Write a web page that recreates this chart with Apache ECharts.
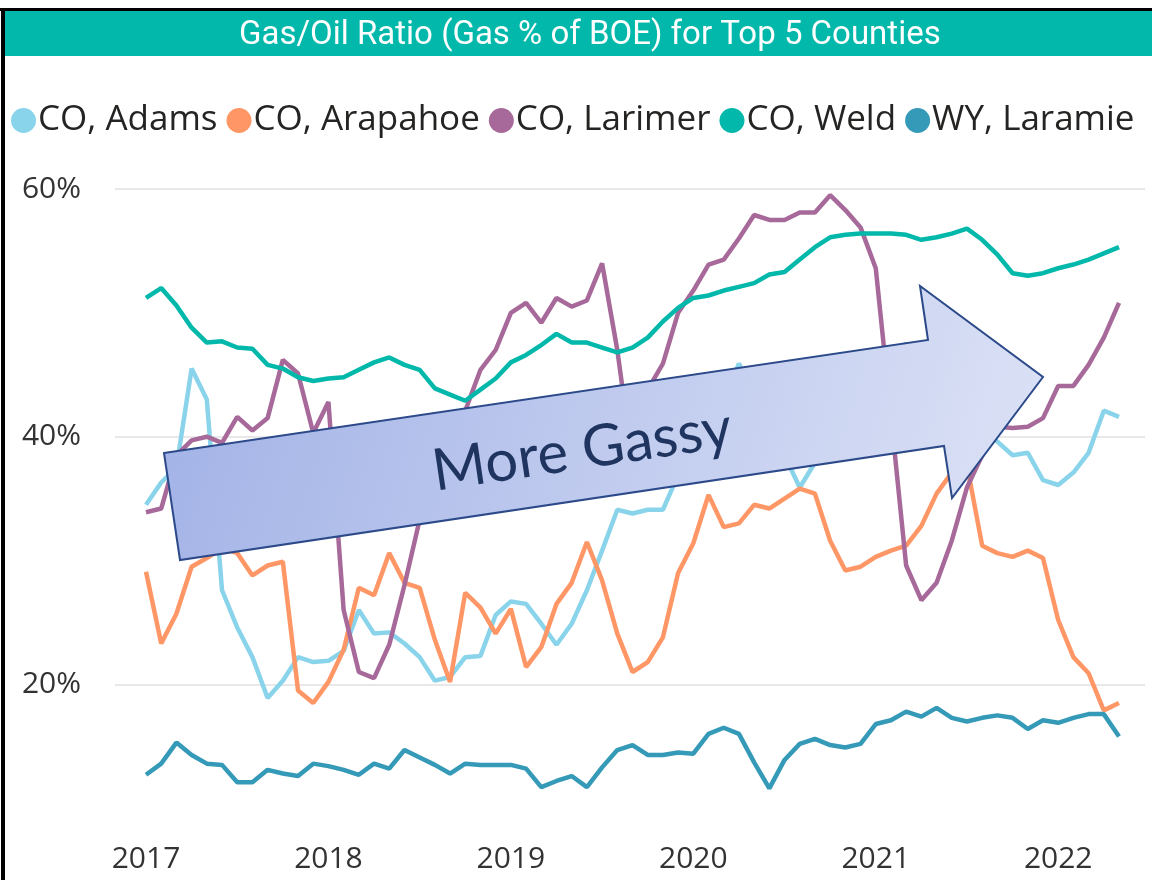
<!DOCTYPE html>
<html>
<head>
<meta charset="utf-8">
<script src="https://cdn.jsdelivr.net/npm/echarts@6/dist/echarts.min.js"></script>
<style>
  html, body { margin: 0; padding: 0; background: #fff; }
  #show { width: 1152px; height: 880px; }
</style>
</head>
<body>
<div id="show"></div>
<script>
// monthly points, Jan 2017 - May 2022
let months = [
  '2017-01','2017-02','2017-03','2017-04','2017-05','2017-06','2017-07','2017-08','2017-09','2017-10','2017-11','2017-12',
  '2018-01','2018-02','2018-03','2018-04','2018-05','2018-06','2018-07','2018-08','2018-09','2018-10','2018-11','2018-12',
  '2019-01','2019-02','2019-03','2019-04','2019-05','2019-06','2019-07','2019-08','2019-09','2019-10','2019-11','2019-12',
  '2020-01','2020-02','2020-03','2020-04','2020-05','2020-06','2020-07','2020-08','2020-09','2020-10','2020-11','2020-12',
  '2021-01','2021-02','2021-03','2021-04','2021-05','2021-06','2021-07','2021-08','2021-09','2021-10','2021-11','2021-12',
  '2022-01','2022-02','2022-03','2022-04','2022-05'
];

// gas % of BOE
let adams = [34.5,36.3,37.5,45.5,43.0,27.6,24.6,22.2,18.9,20.3, 22.2,21.8,21.9,22.7,26.0,24.1,24.2,23.3,22.2,20.3,
  20.6,22.2,22.3,25.6,26.7,26.5,24.9,23.2,24.9,27.6, 30.8,34.1,33.8,34.1,34.1,36.9,38.5,40.5,43.0,45.9,
  43.5,41.0,38.5,35.9,37.9,40.0,42.5,44.0,45.5,47.0, 47.5,46.0,45.0,43.0,41.5,40.5,39.6,38.5,38.7,36.5,
  36.1,37.1,38.7,42.1,41.6];
let arapahoe = [29.1,23.3,25.7,29.5,30.2,31.0,30.6,28.8,29.6,29.9, 19.5,18.5,20.2,22.8,27.8,27.2,30.6,28.2,27.8,23.6,
  20.2,27.4,26.2,24.1,26.1,21.4,23.0,26.5,28.2,31.5, 28.4,24.1,21.0,21.8,23.8,29.0,31.4,35.3,32.7,33.0,
  34.5,34.2,35.0,35.8,35.4,31.6,29.2,29.5,30.3,30.8, 31.2,32.8,35.4,37.1,37.7,31.2,30.6,30.3,30.8,30.2,
  25.2,22.2,20.9,17.9,18.5];
let larimer = [33.9,34.2,38.5,39.7,40.0,39.5,41.6,40.5,41.5,46.2, 45.1,40.3,42.8,26.0,21.0,20.5,23.2,28.0,33.3,37.5,
  40.5,42.1,45.4,47.0,50.0,50.8,49.2,51.2,50.5,51.0, 54.0,47.0,38.0,43.8,45.9,50.0,51.8,53.9,54.3,56.0,
  57.9,57.5,57.5,58.1,58.1,59.5,58.3,56.9,53.6,41.7, 29.6,26.8,28.2,31.6,35.9,38.5,40.8,40.7,40.8,41.5,
  44.1,44.1,45.8,48.0,50.8];
let weld = [51.2,52.0,50.6,48.8,47.6,47.7,47.2,47.1,45.8,45.5, 44.8,44.5,44.7,44.8,45.4,46.0,46.4,45.8,45.4,43.9,
  43.4,42.9,43.8,44.7,46.0,46.6,47.4,48.3,47.6,47.6, 47.2,46.8,47.2,48.0,49.3,50.4,51.2,51.4,51.8,52.1,
  52.4,53.1,53.3,54.3,55.3,56.1,56.3,56.4,56.4,56.4, 56.3,55.9,56.1,56.4,56.8,55.9,54.7,53.2,53.0,53.2,
  53.6,53.9,54.3,54.8,55.3];
let laramie = [12.7,13.6,15.3,14.3,13.6,13.5,12.1,12.1,13.1,12.8, 12.6,13.6,13.4,13.1,12.7,13.6,13.2,14.7,14.1,13.5,
  12.8,13.6,13.5,13.5,13.5,13.2,11.7,12.2,12.6,11.7, 13.3,14.7,15.1,14.3,14.3,14.5,14.4,16.0,16.5,16.0,
  13.7,11.6,13.9,15.2,15.6,15.1,14.9,15.2,16.8,17.1, 17.8,17.4,18.1,17.3,17.0,17.3,17.5,17.3,16.4,17.1,
  16.9,17.3,17.6,17.6,15.8];

let seriesNames = ['CO, Adams', 'CO, Arapahoe', 'CO, Larimer', 'CO, Weld', 'WY, Laramie'];
let seriesData = [adams, arapahoe, larimer, weld, laramie];
let colors = ['#8AD4EB', '#FE9666', '#A66999', '#01B8AA', '#3599B8'];
let yTicks = [20, 40, 60];

let myChart = echarts.init(document.getElementById('show'));

myChart.setOption({
  animation: false,
  color: colors,
  title: {
    text: 'Gas/Oil Ratio (Gas % of BOE) for Top 5 Counties',
    left: 234,
    top: 14,
    textStyle: { color: '#fff', fontSize: 33, fontWeight: 'normal', fontFamily: 'Roboto' }
  },
  legend: {
    data: seriesNames,
    top: 98,
    left: 6,
    icon: 'circle',
    itemWidth: 25,
    itemHeight: 25,
    itemGap: 9,
    textStyle: { fontSize: 35, color: '#252423', fontFamily: 'Open Sans', padding: [0, 0, 0, -3] }
  },
  grid: [
    { left: 115, right: 7, top: 189, bottom: 47 },   // gridlines + y labels
    { left: 146, right: 33, top: 189, bottom: 47 }   // data
  ],
  xAxis: [
    { gridIndex: 0, type: 'value', min: 0, max: 1, show: false },
    {
      gridIndex: 1,
      type: 'category',
      data: months,
      boundaryGap: false,
      axisLine: { show: false },
      axisTick: { show: false },
      axisLabel: {
        interval: (i, v) => v.slice(5) === '01',
        formatter: v => v.slice(0, 4),
        fontSize: 30,
        color: '#333',
        fontFamily: 'Open Sans',
        margin: 11
      }
    }
  ],
  yAxis: [
    {
      gridIndex: 0,
      type: 'value',
      min: 8,
      max: 60,
      axisLine: { show: false },
      axisTick: { show: false, customValues: yTicks },
      axisLabel: { customValues: yTicks, formatter: '{value}%', fontSize: 30, color: '#333', fontFamily: 'Open Sans', margin: 34 },
      splitLine: { lineStyle: { color: '#e8e8e8', width: 2 } }
    },
    { gridIndex: 1, type: 'value', min: 8, max: 60, show: false }
  ],
  series: seriesNames.map((name, k) => ({
    name: name,
    type: 'line',
    xAxisIndex: 1,
    yAxisIndex: 1,
    data: seriesData[k],
    symbol: 'none',
    lineStyle: { width: 4.5 }
  })),
  graphic: [
    { type: 'rect', shape: { x: 5, y: 11, width: 1147, height: 45 }, style: { fill: '#01B8AA' }, z: -1 },
    { type: 'rect', shape: { x: 0, y: 8, width: 1152, height: 3 }, style: { fill: '#000' } },
    { type: 'rect', shape: { x: 1, y: 8, width: 4, height: 872 }, style: { fill: '#000' } },
    {
      type: 'polygon',
      z: 100,
      shape: { points: [[164, 453], [928, 340], [920, 286], [1043, 377], [952, 498], [944, 446], [180, 560]] },
      style: {
        fill: new echarts.graphic.LinearGradient(0, 0, 1, 1, [
          { offset: 0, color: '#a1b1e6' },
          { offset: 1, color: '#dde3f6' }
        ]),
        stroke: '#2c4a8a',
        lineWidth: 2
      }
    },
    {
      type: 'text',
      z: 101,
      x: 582,
      y: 450,
      rotation: 0.148,
      style: {
        text: 'More Gassy',
        fill: '#1f3560',
        font: '58px Lato',
        textAlign: 'center',
        textVerticalAlign: 'middle'
      }
    }
  ]
});
</script>
</body>
</html>
